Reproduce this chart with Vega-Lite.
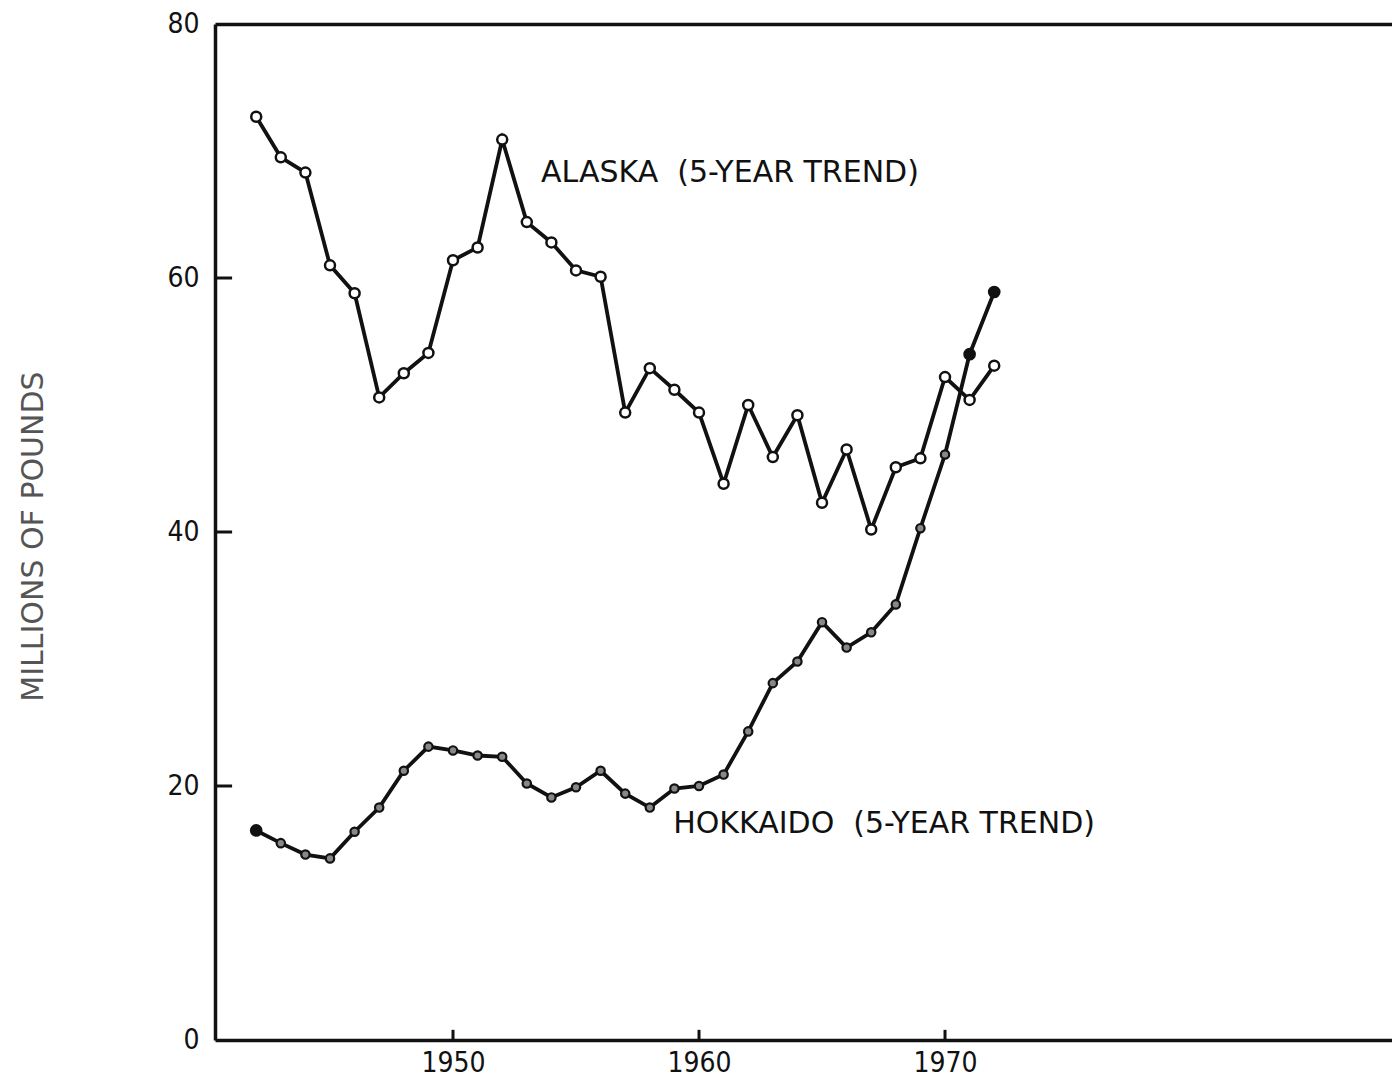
{
  "$schema": "https://vega.github.io/schema/vega-lite/v6.json",
  "width": 1177,
  "height": 1016,
  "autosize": {"type": "none"},
  "padding": {"left": 215, "top": 24, "right": 0, "bottom": 39},
  "background": "white",
  "config": {
    "view": {"stroke": null},
    "axis": {"grid": false, "domainColor": "#111", "tickColor": "#111", "labelColor": "#111", "labelFont": "DejaVu Sans Condensed", "labelFontSize": 28}
  },
  "datasets": {
    "catch": [
      {"year": 1942, "series": "Alaska", "value": 72.7},
      {"year": 1943, "series": "Alaska", "value": 69.5},
      {"year": 1944, "series": "Alaska", "value": 68.3},
      {"year": 1945, "series": "Alaska", "value": 61.0},
      {"year": 1946, "series": "Alaska", "value": 58.8},
      {"year": 1947, "series": "Alaska", "value": 50.6},
      {"year": 1948, "series": "Alaska", "value": 52.5},
      {"year": 1949, "series": "Alaska", "value": 54.1},
      {"year": 1950, "series": "Alaska", "value": 61.4},
      {"year": 1951, "series": "Alaska", "value": 62.4},
      {"year": 1952, "series": "Alaska", "value": 70.9},
      {"year": 1953, "series": "Alaska", "value": 64.4},
      {"year": 1954, "series": "Alaska", "value": 62.8},
      {"year": 1955, "series": "Alaska", "value": 60.6},
      {"year": 1956, "series": "Alaska", "value": 60.1},
      {"year": 1957, "series": "Alaska", "value": 49.4},
      {"year": 1958, "series": "Alaska", "value": 52.9},
      {"year": 1959, "series": "Alaska", "value": 51.2},
      {"year": 1960, "series": "Alaska", "value": 49.4},
      {"year": 1961, "series": "Alaska", "value": 43.8},
      {"year": 1962, "series": "Alaska", "value": 50.0},
      {"year": 1963, "series": "Alaska", "value": 45.9},
      {"year": 1964, "series": "Alaska", "value": 49.2},
      {"year": 1965, "series": "Alaska", "value": 42.3},
      {"year": 1966, "series": "Alaska", "value": 46.5},
      {"year": 1967, "series": "Alaska", "value": 40.2},
      {"year": 1968, "series": "Alaska", "value": 45.1},
      {"year": 1969, "series": "Alaska", "value": 45.8},
      {"year": 1970, "series": "Alaska", "value": 52.2},
      {"year": 1971, "series": "Alaska", "value": 50.4},
      {"year": 1972, "series": "Alaska", "value": 53.1},
      {"year": 1942, "series": "Hokkaido", "value": 16.5},
      {"year": 1943, "series": "Hokkaido", "value": 15.5},
      {"year": 1944, "series": "Hokkaido", "value": 14.6},
      {"year": 1945, "series": "Hokkaido", "value": 14.3},
      {"year": 1946, "series": "Hokkaido", "value": 16.4},
      {"year": 1947, "series": "Hokkaido", "value": 18.3},
      {"year": 1948, "series": "Hokkaido", "value": 21.2},
      {"year": 1949, "series": "Hokkaido", "value": 23.1},
      {"year": 1950, "series": "Hokkaido", "value": 22.8},
      {"year": 1951, "series": "Hokkaido", "value": 22.4},
      {"year": 1952, "series": "Hokkaido", "value": 22.3},
      {"year": 1953, "series": "Hokkaido", "value": 20.2},
      {"year": 1954, "series": "Hokkaido", "value": 19.1},
      {"year": 1955, "series": "Hokkaido", "value": 19.9},
      {"year": 1956, "series": "Hokkaido", "value": 21.2},
      {"year": 1957, "series": "Hokkaido", "value": 19.4},
      {"year": 1958, "series": "Hokkaido", "value": 18.3},
      {"year": 1959, "series": "Hokkaido", "value": 19.8},
      {"year": 1960, "series": "Hokkaido", "value": 20.0},
      {"year": 1961, "series": "Hokkaido", "value": 20.9},
      {"year": 1962, "series": "Hokkaido", "value": 24.3},
      {"year": 1963, "series": "Hokkaido", "value": 28.1},
      {"year": 1964, "series": "Hokkaido", "value": 29.8},
      {"year": 1965, "series": "Hokkaido", "value": 32.9},
      {"year": 1966, "series": "Hokkaido", "value": 30.9},
      {"year": 1967, "series": "Hokkaido", "value": 32.1},
      {"year": 1968, "series": "Hokkaido", "value": 34.3},
      {"year": 1969, "series": "Hokkaido", "value": 40.3},
      {"year": 1970, "series": "Hokkaido", "value": 46.1},
      {"year": 1971, "series": "Hokkaido", "value": 54.0},
      {"year": 1972, "series": "Hokkaido", "value": 58.9}
    ],
    "yticks": [{"v": 20}, {"v": 40}, {"v": 60}],
    "xticks": [{"yr": 1950}, {"yr": 1960}, {"yr": 1970}]
  },
  "data": {"name": "catch"},
  "resolve": {"axis": {"x": "independent", "y": "independent"}},
  "layer": [
    {
      "mark": {"type": "line", "color": "#111", "strokeWidth": 3.8},
      "encoding": {
        "x": {
          "field": "year", "type": "quantitative",
          "scale": {"domain": [1940.325, 1988.17], "nice": false, "zero": false},
          "axis": {"orient": "bottom", "title": null, "values": [1950, 1960, 1970], "format": "d",
                   "domainWidth": 3.5, "ticks": false, "labelPadding": 9, "labelBaseline": "top"}
        },
        "y": {
          "field": "value", "type": "quantitative",
          "scale": {"domain": [0, 80], "nice": false, "zero": true},
          "axis": {"orient": "left", "values": [0, 20, 40, 60, 80], "domainWidth": 3.5, "ticks": false,
                   "labelPadding": 16, "title": "MILLIONS OF POUNDS", "titleFont": "DejaVu Sans", "titleFontSize": 30,
                   "titleFontWeight": "normal", "titleColor": "#555", "titleX": -182, "titleY": 512, "titleAngle": 270,
                   "titleAlign": "center", "titleBaseline": "middle"}
        },
        "detail": {"field": "series"}
      }
    },
    {
      "data": {"name": "yticks"},
      "mark": {"type": "rule", "color": "#111", "strokeWidth": 3},
      "encoding": {
        "y": {"field": "v", "type": "quantitative", "axis": null},
        "x": {"datum": 1940.325, "type": "quantitative", "axis": null},
        "x2": {"datum": 1941.02}
      }
    },
    {
      "data": {"name": "xticks"},
      "mark": {"type": "rule", "color": "#111", "strokeWidth": 3},
      "encoding": {
        "x": {"field": "yr", "type": "quantitative", "axis": null},
        "y": {"datum": 0, "type": "quantitative", "axis": null},
        "y2": {"datum": 0.8}
      }
    },
    {
      "transform": [{"filter": "datum.series === 'Alaska'"}],
      "mark": {"type": "point", "shape": "circle", "filled": true, "fill": "white", "stroke": "#111", "strokeWidth": 2.5, "size": 100, "opacity": 1},
      "encoding": {
        "x": {"field": "year", "type": "quantitative", "axis": {"orient": "top", "domainWidth": 3.5, "ticks": false, "labels": false, "title": null}},
        "y": {"field": "value", "type": "quantitative", "axis": null}
      }
    },
    {
      "transform": [{"filter": "datum.series === 'Hokkaido'"}],
      "mark": {"type": "point", "shape": "circle", "filled": true, "stroke": "#111", "strokeWidth": 2.2, "opacity": 1},
      "encoding": {
        "x": {"field": "year", "type": "quantitative", "axis": null},
        "y": {"field": "value", "type": "quantitative", "axis": null},
        "fill": {"condition": {"test": "datum.year === 1942 || datum.year >= 1971", "value": "#111"}, "value": "#888"},
        "size": {"condition": {"test": "datum.year === 1942 || datum.year >= 1971", "value": 110}, "value": 70}
      }
    },
    {
      "data": {"values": [{"label": "ALASKA\u00a0 (5-YEAR TREND)"}]},
      "mark": {"type": "text", "align": "left", "baseline": "middle", "font": "DejaVu Sans", "fontSize": 30, "color": "#111"},
      "encoding": {
        "x": {"datum": 1953.58, "type": "quantitative", "axis": null},
        "y": {"datum": 68.3, "type": "quantitative", "axis": null},
        "text": {"field": "label"}
      }
    },
    {
      "data": {"values": [{"label": "HOKKAIDO\u00a0 (5-YEAR TREND)"}]},
      "mark": {"type": "text", "align": "left", "baseline": "middle", "font": "DejaVu Sans", "fontSize": 30, "color": "#111"},
      "encoding": {
        "x": {"datum": 1958.95, "type": "quantitative", "axis": null},
        "y": {"datum": 17.0, "type": "quantitative", "axis": null},
        "text": {"field": "label"}
      }
    }
  ]
}
